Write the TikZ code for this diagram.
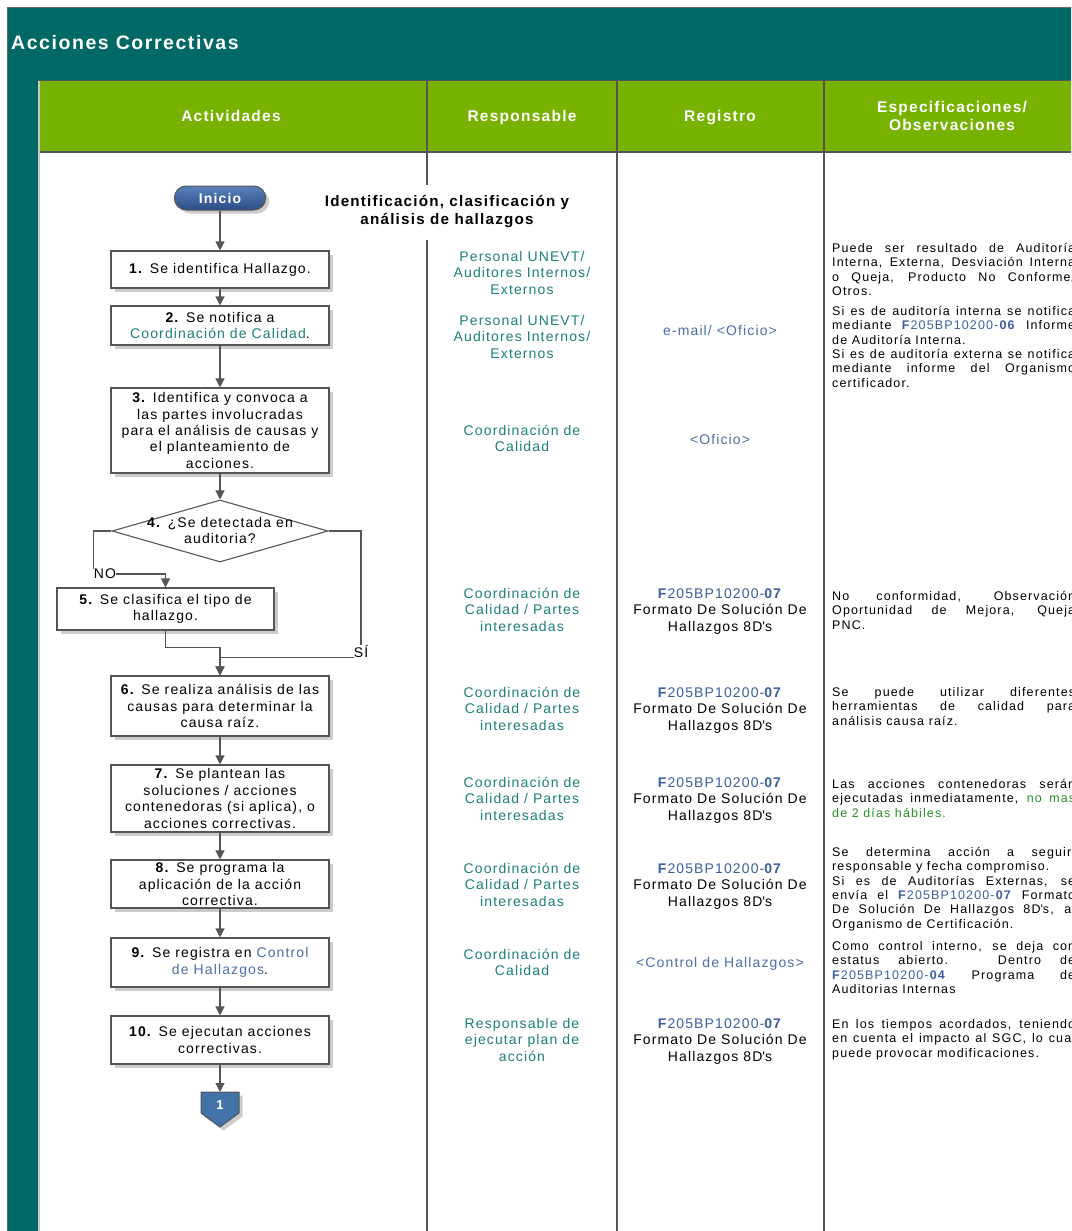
\documentclass[tikz,border=0pt]{standalone}
\usepackage{fontspec}
\setmainfont{Liberation Sans}[LetterSpace=8]
\newfontfamily\specfont{Liberation Sans}[LetterSpace=9]
\usetikzlibrary{shapes.geometric,shapes.misc,arrows.meta,shadows,calc}

\definecolor{teal1}{RGB}{0,104,101}
\definecolor{hgreen}{RGB}{119,178,0}
\definecolor{lgray}{RGB}{85,85,85}
\definecolor{tealtx}{RGB}{26,127,120}
\definecolor{bluetx}{RGB}{78,110,170}
\definecolor{fblue}{RGB}{59,95,158}
\definecolor{gtx}{RGB}{40,140,40}
\definecolor{ibtop}{RGB}{90,130,188}
\definecolor{ibbot}{RGB}{42,76,132}
\definecolor{cblue}{RGB}{65,115,168}

\newcommand\fcode[1]{\textcolor{fblue}{\textbf{F}205BP10200-\textbf{#1}}}
\newcommand\ttx[1]{\textcolor{tealtx}{#1}}
\newcommand\btx[1]{\textcolor{bluetx}{#1}}
\newcommand\mainsz{\fontsize{14}{16.4}\selectfont}
\newcommand\colsz{\fontsize{14}{16.5}\selectfont}
\newcommand\specsz{\specfont\fontsize{12.5}{14.4}\selectfont}
\newcommand\ctr[1]{\parbox[t]{200pt}{\centering\colsz #1}}
\newcommand\jl[1]{\makebox[243pt][s]{#1}}
\newcommand\spc[1]{\parbox[t]{243pt}{\specsz #1}}

\tikzset{
  shadowed/.style={drop shadow={shadow xshift=3.5pt, shadow yshift=-3.5pt, fill=black!20, opacity=1}},
  stepbox/.style={draw=lgray, line width=1.1pt, fill=white, align=center, font=\mainsz, inner sep=2pt, shadowed},
  flow/.style={draw=lgray, line width=1.2pt, -{Triangle[width=9pt,length=9pt]}},
  conn/.style={draw=lgray, line width=1.2pt},
  coltx/.style={inner sep=0pt, anchor=base},
  spectx/.style={inner sep=0pt, anchor=base west},
  lbl/.style={inner sep=0pt, font=\mainsz},
  hdline/.style={draw=lgray, line width=1.4pt},
  colline/.style={draw=lgray, line width=1.5pt},
  hdtx/.style={text=white, font=\bfseries\fontsize{15.5}{18}\selectfont, inner sep=0pt, anchor=base},
}

\begin{document}
\begin{tikzpicture}[x=1pt,y=-1pt]
\path[use as bounding box] (0,0) rectangle (1071,1231);
\clip (0,0) rectangle (1071,1231);

% frame
\fill[teal1] (7,7) rectangle (1075,80);
\fill[teal1] (7,80) rectangle (38,1235);
\draw[black!60, line width=0.8pt] (7,1235) -- (7,7) -- (1075,7);
\fill[hgreen] (40,81) rectangle (1075,152);
\draw[black!22, line width=2pt] (39,80) -- (39,1235);
\draw[hdline] (38,80.5) -- (1075,80.5);
\draw[hdline] (40,152) -- (1075,152);
\foreach \x in {427,617,824} \draw[hdline] (\x,80) -- (\x,152);
\draw[colline] (427,152) -- (427,185);
\draw[colline] (427,240) -- (427,1235);
\draw[colline] (617,152) -- (617,1235);
\draw[colline] (824,152) -- (824,1235);

% titles
\node[anchor=west, text=white, font=\bfseries\fontsize{19.5}{22}\selectfont, inner sep=0pt] (title) at (11,43) {Acciones Correctivas};
\node[hdtx] (h1) at (231,121.5) {Actividades};
\node[hdtx] (h2) at (522,121.5) {Responsable};
\node[hdtx] (h3) at (720,121.5) {Registro};
\node[hdtx] (h4a) at (952,112.5) {Especificaciones/};
\node[hdtx] (h4b) at (952,130.5) {Observaciones};
\node[font=\bfseries\fontsize{15.2}{18}\selectfont, align=center] (sect) at (447,212) {Identificación, clasificación y\\análisis de hallazgos};

% flow nodes
\node[rounded rectangle, draw=lgray, line width=1pt, top color=ibtop, bottom color=ibbot, minimum width=98pt, minimum height=24pt, text=white, font=\bfseries\fontsize{14}{16}\selectfont, shadowed] (ini) at (220,198) {Inicio};
\node[stepbox, minimum width=218pt, minimum height=37pt] (s1) at (220,269.5) {\textbf{1.} Se identifica Hallazgo.};
\node[stepbox, minimum width=218pt, minimum height=39pt] (s2) at (220,325.5) {\textbf{2.} Se notifica a\\\ttx{Coordinación de Calidad}.};
\node[stepbox, minimum width=218pt, minimum height=85pt] (s3) at (220,430.5) {\textbf{3.} Identifica y convoca a\\las partes involucradas\\para el análisis de causas y\\el planteamiento de\\acciones.};
\node[diamond, draw=lgray, line width=1.1pt, fill=white, minimum width=216pt, minimum height=62pt, inner sep=0pt] (d4) at (220,531) {};
\node[font=\mainsz, align=center, inner sep=0pt] (d4t) at (220,530.5) {\textbf{4.} ¿Se detectada en\\auditoria?};
\node[stepbox, minimum width=217pt, minimum height=42pt] (s5) at (165.5,609) {\textbf{5.} Se clasifica el tipo de\\hallazgo.};
\node[stepbox, minimum width=218pt, minimum height=60pt] (s6) at (220,706) {\textbf{6.} Se realiza análisis de las\\causas para determinar la\\causa raíz.};
\node[stepbox, minimum width=218pt, minimum height=67pt] (s7) at (220,798.5) {\textbf{7.} Se plantean las\\soluciones / acciones\\contenedoras (si aplica), o\\acciones correctivas.};
\node[stepbox, minimum width=218pt, minimum height=48pt] (s8) at (220,884) {\textbf{8.} Se programa la\\aplicación de la acción\\correctiva.};
\node[stepbox, minimum width=218pt, minimum height=49pt] (s9) at (220,962.5) {\textbf{9.} Se registra en \btx{Control}\\\btx{de Hallazgos}.};
\node[stepbox, minimum width=218pt, minimum height=48pt] (s10) at (220,1040) {\textbf{10.} Se ejecutan acciones\\correctivas.};

% off-page connector
\path[draw=lgray, line width=1pt, fill=cblue, shadowed] (201,1092) -- (239,1092) -- (239,1113) -- (220,1127) -- (201,1113) -- cycle;
\coordinate (c1top) at (220,1092);
\node[text=white, font=\bfseries\fontsize{13}{15}\selectfont, inner sep=0pt] (c1) at (220,1105) {1};

% connectors
\draw[flow] (ini.south) -- (s1.north);
\draw[flow] (s1.south) -- (s2.north);
\draw[flow] (s2.south) -- (s3.north);
\draw[flow] (s3.south) -- (d4.north);
\node[lbl] (no) at (105,574) {NO};
\draw[conn] (d4.west) -| (no.north west);
\draw[flow] (no.east) -| (s5.north);
\node[lbl] (si) at (361,651) {SÍ};
\draw[conn] (d4.east) -| (si.north);
\draw[flow] (si.south west) -| (s6.north);
\draw[flow] (s5.south) -- ++(0,17) -| (s6.north);
\draw[flow] (s6.south) -- (s7.north);
\draw[flow] (s7.south) -- (s8.north);
\draw[flow] (s8.south) -- (s9.north);
\draw[flow] (s9.south) -- (s10.north);
\draw[flow] (s10.south) -- (c1top);

% responsable
\node[coltx, text=tealtx] (r1) at (522,261) {\ctr{Personal UNEVT/\\Auditores Internos/\\Externos}};
\node[coltx, text=tealtx] (r2) at (522,325) {\ctr{Personal UNEVT/\\Auditores Internos/\\Externos}};
\node[coltx, text=tealtx] (r3) at (522,435) {\ctr{Coordinación de\\Calidad}};
\node[coltx, text=tealtx] (r5) at (522,598) {\ctr{Coordinación de\\Calidad / Partes\\interesadas}};
\node[coltx, text=tealtx] (r6) at (522,697) {\ctr{Coordinación de\\Calidad / Partes\\interesadas}};
\node[coltx, text=tealtx] (r7) at (522,787) {\ctr{Coordinación de\\Calidad / Partes\\interesadas}};
\node[coltx, text=tealtx] (r8) at (522,873) {\ctr{Coordinación de\\Calidad / Partes\\interesadas}};
\node[coltx, text=tealtx] (r9) at (522,959) {\ctr{Coordinación de\\Calidad}};
\node[coltx, text=tealtx] (r10) at (522,1028) {\ctr{Responsable de\\ejecutar plan de\\acción}};

% registro
\node[coltx] (g2) at (720,335) {\ctr{\btx{e-mail/ <Oficio>}}};
\node[coltx] (g3) at (720,444) {\ctr{\btx{<Oficio>}}};
\node[coltx] (g5) at (720,598) {\ctr{\fcode{07}\\Formato De Solución De\\Hallazgos 8D\textquotesingle s}};
\node[coltx] (g6) at (720,697) {\ctr{\fcode{07}\\Formato De Solución De\\Hallazgos 8D\textquotesingle s}};
\node[coltx] (g7) at (720,787) {\ctr{\fcode{07}\\Formato De Solución De\\Hallazgos 8D\textquotesingle s}};
\node[coltx] (g8) at (720,873) {\ctr{\fcode{07}\\Formato De Solución De\\Hallazgos 8D\textquotesingle s}};
\node[coltx] (g9) at (720,967) {\ctr{\btx{<Control de Hallazgos>}}};
\node[coltx] (g10) at (720,1028) {\ctr{\fcode{07}\\Formato De Solución De\\Hallazgos 8D\textquotesingle s}};

% especificaciones
\node[spectx] (p1) at (832,252.3) {\spc{\jl{Puede ser resultado de Auditoría}\par
\jl{Interna, Externa, Desviación Interna}\par
\jl{o Queja, Producto No Conforme/}\par
Otros.}};
\node[spectx] (p2) at (832,315.3) {\spc{\jl{Si es de auditoría interna se notifica}\par
\jl{mediante \fcode{06} Informe}\par
de Auditoría Interna.\par
\jl{Si es de auditoría externa se notifica}\par
\jl{mediante informe del Organismo}\par
certificador.}};
\node[spectx] (p3) at (832,600.3) {\spc{\jl{No conformidad, Observación}\par
\jl{Oportunidad de Mejora, Queja}\par
PNC.}};
\node[spectx] (p4) at (832,696.3) {\spc{\jl{Se puede utilizar diferentes}\par
\jl{herramientas de calidad para}\par
análisis causa raíz.}};
\node[spectx] (p5) at (832,788.3) {\spc{\jl{Las acciones contenedoras serán}\par
\jl{ejecutadas inmediatamente, \textcolor{gtx}{no mas}}\par
\textcolor{gtx}{de 2 días hábiles.}}};
\node[spectx] (p6) at (832,856.3) {\spc{\jl{Se determina acción a seguir,}\par
responsable y fecha compromiso.\par
\jl{Si es de Auditorías Externas, se}\par
\jl{envía el \fcode{07} Formato}\par
\jl{De Solución De Hallazgos 8D\textquotesingle s, al}\par
Organismo de Certificación.}};
\node[spectx] (p7) at (832,950.3) {\spc{\jl{Como control interno, se deja con}\par
\jl{estatus abierto. Dentro de}\par
\jl{\fcode{04} Programa de}\par
Auditorias Internas}};
\node[spectx] (p8) at (832,1028.3) {\spc{\jl{En los tiempos acordados, teniendo}\par
\jl{en cuenta el impacto al SGC, lo cual}\par
puede provocar modificaciones.}};
\end{tikzpicture}
\end{document}
